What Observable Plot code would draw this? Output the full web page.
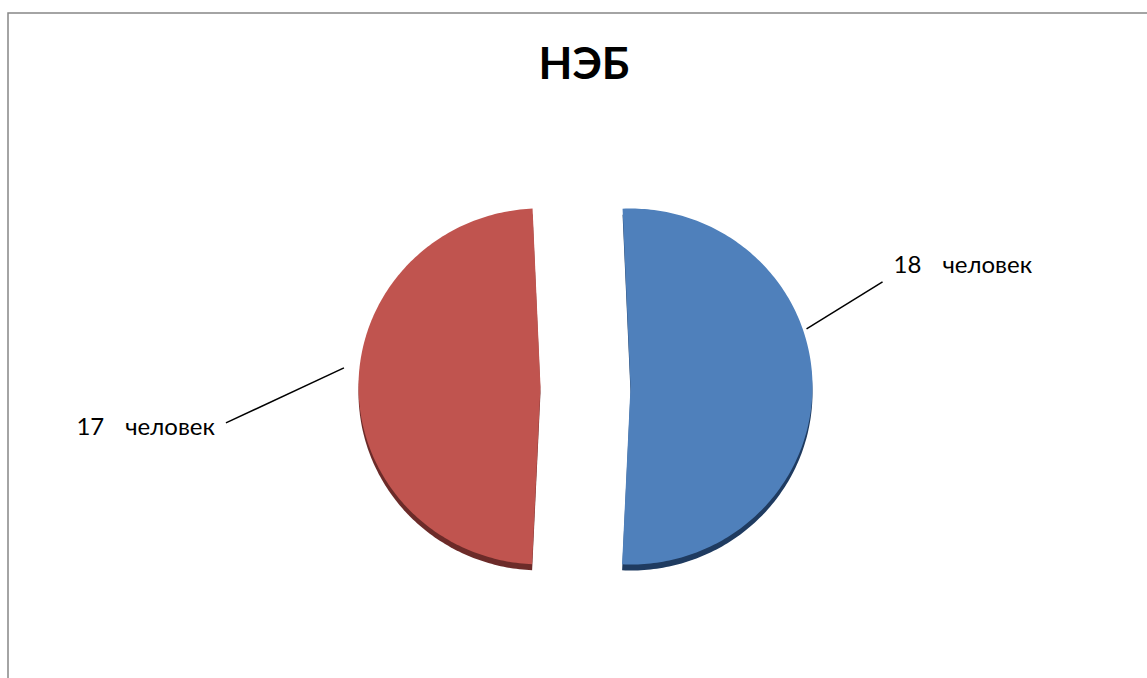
<!DOCTYPE html>
<html>
<head>
<meta charset="utf-8">
<script src="https://cdn.jsdelivr.net/npm/d3@7"></script>
<script src="https://cdn.jsdelivr.net/npm/@observablehq/plot@0.6"></script>
<style>
  html, body { margin: 0; padding: 0; background: #fff; overflow: hidden; }
</style>
</head>
<body>
<div id="chart"></div>
<script>
// Data
const chartTitle = "НЭБ";
const counts = [18, 17];
const unit = "человек";
const sliceColors = ["#4f80bb", "#c0544f"];
const sideColors = ["#1f3b60", "#6c2b29"];

// Layout (pixels)
const W = 1147, H = 678;
const cx = 585, cy = 386, rx = 182, ry = 178, explode = 45, depth = 6;
const startDeg = -2.5;
// Leader lines: angle (deg, clockwise from 12 o'clock), start radius factor,
// end offset from start, and label offset from the end of the line.
const leaders = [
  {angle: 71.5, r0: 1.02, dx: 76, dy: -47, tx: 11, ty: -17, anchor: "start"},
  {angle: 275.5, r0: 1.085, dx: -118, dy: 55, tx: -11, ty: 4, anchor: "end"}
];

const rad = Math.PI / 180;
const arcs = d3.pie().sort(null).value(d => d)
  .startAngle(startDeg * rad).endAngle((startDeg + 360) * rad)(counts);
const slices = arcs.map((a, i) => {
  const mid = (a.startAngle + a.endAngle) / 2;
  return {
    i, value: a.value, start: a.startAngle, end: a.endAngle,
    ox: cx + explode * Math.sin(mid),
    oy: cy - explode * Math.cos(mid)
  };
});

function wedge(s, shift) {
  const pts = [{x: s.ox, y: s.oy + shift, i: s.i}];
  const n = Math.ceil((s.end - s.start) / rad);
  for (let k = 0; k <= n; k++) {
    const a = s.start + (s.end - s.start) * k / n;
    pts.push({x: s.ox + rx * Math.sin(a), y: s.oy + shift - ry * Math.cos(a), i: s.i});
  }
  return pts;
}

const sidePts = slices.flatMap(s => wedge(s, depth));
const topPts = slices.flatMap(s => wedge(s, 0));

const links = slices.map(s => {
  const L = leaders[s.i];
  const a = L.angle * rad;
  const x1 = s.ox + L.r0 * rx * Math.sin(a);
  const y1 = s.oy - L.r0 * ry * Math.cos(a);
  const x2 = x1 + L.dx, y2 = y1 + L.dy;
  return {x1, y1, x2, y2, tx: x2 + L.tx, ty: y2 + L.ty, anchor: L.anchor,
          label: `${s.value}\u2003\u2009${unit}`};
});

const chart = Plot.plot({
  width: W, height: H, margin: 0,
  style: {fontFamily: "Lato, 'Open Sans', sans-serif", background: "#fff", overflow: "visible"},
  x: {domain: [0, W], range: [0, W], axis: null},
  y: {domain: [0, H], range: [0, H], axis: null},
  color: {type: "identity"},
  marks: [
    Plot.frame({stroke: "#878787", strokeWidth: 1.5, insetLeft: 7.5, insetTop: 12.5, insetRight: -20, insetBottom: -20}),
    Plot.text([chartTitle], {frameAnchor: "top", dx: 10, dy: 47, fontSize: 44, fontWeight: "bold", fill: "#000"}),
    Plot.line(sidePts, {x: "x", y: "y", z: "i", fill: d => sideColors[d.i], stroke: "none", curve: "linear-closed"}),
    Plot.line(topPts, {x: "x", y: "y", z: "i", fill: d => sliceColors[d.i], stroke: "none", curve: "linear-closed"}),
    Plot.link(links, {x1: "x1", y1: "y1", x2: "x2", y2: "y2", stroke: "#000", strokeWidth: 1.5}),
    Plot.text(links.filter(d => d.anchor === "start"), {x: "tx", y: "ty", text: "label", textAnchor: "start", fontSize: 24, fill: "#000"}),
    Plot.text(links.filter(d => d.anchor === "end"), {x: "tx", y: "ty", text: "label", textAnchor: "end", fontSize: 24, fill: "#000"})
  ]
});
document.getElementById("chart").appendChild(chart);
</script>
</body>
</html>
